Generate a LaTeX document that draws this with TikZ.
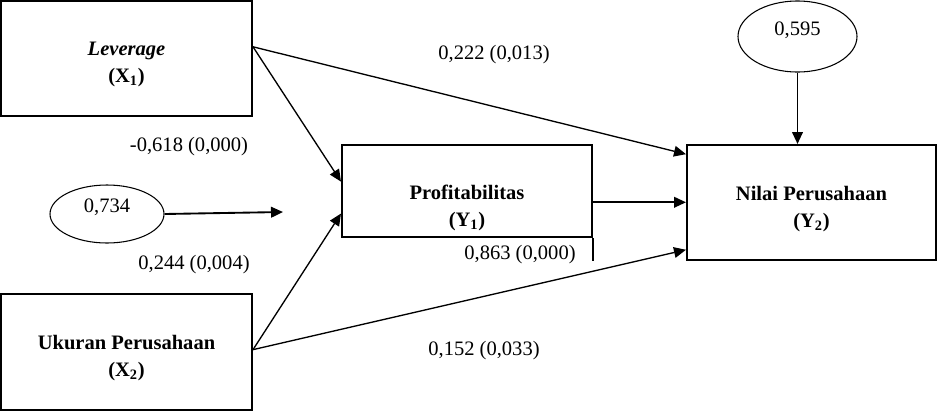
\documentclass[tikz,border=0pt]{standalone}
\usepackage{fontspec}
\setmainfont{Liberation Serif}
\usetikzlibrary{arrows.meta,shapes.geometric,calc}
\begin{document}
\begin{tikzpicture}[x=0.75pt,y=-0.75pt,
  box/.style={draw,line width=1.5pt,rectangle,inner sep=0pt,align=center,
    font=\fontsize{15.4}{20.25}\selectfont\bfseries},
  err/.style={draw,line width=0.8pt,ellipse,inner sep=0pt,
    font=\fontsize{15.4}{18}\selectfont},
  lbl/.style={inner sep=0pt,font=\fontsize{15.4}{18}\selectfont},
  conn/.style={line width=1pt,-{Triangle[length=9pt,width=8pt]}},
  connb/.style={line width=1.4pt,-{Triangle[length=9pt,width=8pt]}}
]
\useasboundingbox (0,0) rectangle (938,411);

% boxes
\node[box,minimum width=188.25pt,minimum height=86.25pt] (lev) at (126.5,58.5)
  {\rule{0pt}{19.4pt}\textit{Leverage}\\(X\textsubscript{1})};
\node[box,minimum width=188.25pt,minimum height=87pt] (uk) at (126.5,352)
  {\rule{0pt}{20.2pt}Ukuran Perusahaan\\(X\textsubscript{2})};
\node[box,minimum width=187.5pt,minimum height=69pt] (prof) at (467,191)
  {\rule{0pt}{36pt}Profitabilitas\\(Y\textsubscript{1})};
\node[box,minimum width=186.75pt,minimum height=86.25pt] (nilai) at (811.5,202.5)
  {\rule{0pt}{20.2pt}Nilai Perusahaan\\(Y\textsubscript{2})};

% error ellipses
\node[err,minimum width=85.5pt,minimum height=43.5pt] (e1) at (107,214)
  {0,734\rule[-12pt]{0pt}{0pt}\hspace{7.5pt}};
\node[err,minimum width=89.25pt,minimum height=53.25pt] (e2) at (797.5,36.5)
  {0,595\rule[-11.25pt]{0pt}{0pt}\hspace{11.25pt}};
\coordinate (e1end) at (283,212);

% coefficient labels
\node[lbl] (t1) at (494,55) {0,222 (0,013)};
\node[lbl] (t2) at (189,147) {-0,618 (0,000)};
\node[lbl] (t3) at (194,265) {0,244 (0,004)};
\node[lbl] (t4) at (520,255) {0,863 (0,000)};
\node[lbl] (t5) at (484,351) {0,152 (0,033)};

% connectors
\coordinate (levout) at ($(lev.north east)!0.4!(lev.south east)$);
\coordinate (ukout) at ($(uk.north east)!0.48!(uk.south east)$);
\coordinate (pn) at ($(prof.north east)!0.62!(prof.south east)$);
\draw[conn] (levout) -- ($(prof.north west)!0.4!(prof.south west)$);
\draw[conn] (levout) -- ($(nilai.north west)!0.087!(nilai.south west)$);
\draw[conn] (ukout) -- ($(prof.north west)!0.74!(prof.south west)$);
\draw[conn] (ukout) -- ($(nilai.north west)!0.904!(nilai.south west)$);
\draw[connb] (pn) -- (pn -| nilai.west);
\draw[connb] (e2.south) -- (e2.south |- nilai.north);
\draw[connb] (e1.east) -- (e1end);
\draw[line width=1pt] (prof.south east) -- ++(0,23);
\end{tikzpicture}
\end{document}
